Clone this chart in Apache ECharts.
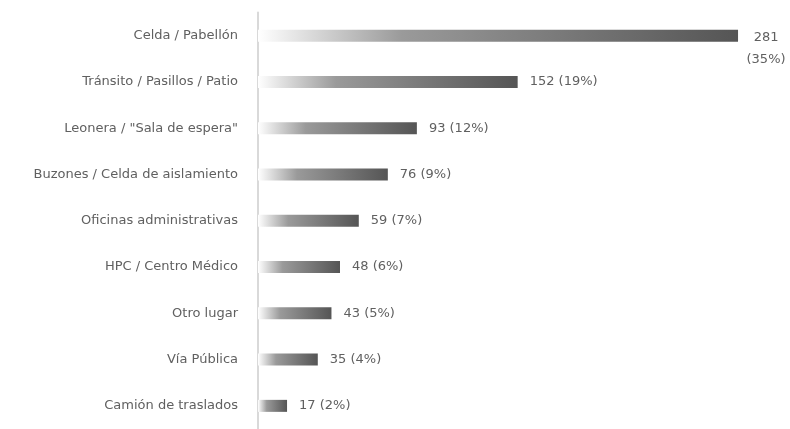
<!DOCTYPE html>
<html><head><meta charset="utf-8">
<script src="https://cdn.jsdelivr.net/npm/echarts@6/dist/echarts.min.js"></script>
<style>html,body{margin:0;padding:0;background:#fff}#c{width:790px;height:429px}</style>
</head><body><div id="c"></div>
<script>
var categories = ["Celda / Pabellón","Tránsito / Pasillos / Patio","Leonera / \"Sala de espera\"","Buzones / Celda de aislamiento","Oficinas administrativas","HPC / Centro Médico","Otro lugar","Vía Pública","Camión de traslados"];
var values = [281,152,93,76,59,48,43,35,17];
var percents = [35,19,12,9,7,6,5,4,2];

var chart = echarts.init(document.getElementById('c'));
var font = 'DejaVu Sans, sans-serif';
var data = values.map(function(v,i){
  var d = {value: v};
  if (i === 0) {
    d.label = {align:'center', offset:[16, 13], lineHeight: 22};
  }
  return d;
});
chart.setOption({
  animation:false,
  grid:{left:258, top:12.5, width:512.5, height:423},
  xAxis:{type:'value', min:0, max:300, show:false},
  yAxis:{type:'category', inverse:true, data:categories,
    axisLine:{lineStyle:{color:'#d9d9d9', width:2}},
    axisTick:{show:false},
    axisLabel:{color:'#606060', fontFamily:font, fontSize:13, margin:20}},
  series:[{type:'bar', data:data, barWidth:12,
    itemStyle:{color:new echarts.graphic.LinearGradient(0,0,1,0,[
      {offset:0,color:'rgba(255,255,255,1)'},
      {offset:0.3,color:'#9a9a9a'},
      {offset:1,color:'#555555'}])},
    label:{show:true, position:'right', distance:12, color:'#606060', fontFamily:font, fontSize:13,
      formatter:function(p){
        var t = values[p.dataIndex] + ' (' + percents[p.dataIndex] + '%)';
        if (p.dataIndex === 0) t = values[0] + '\n(' + percents[0] + '%)';
        return t;
      }}
  }]
});
</script></body></html>
